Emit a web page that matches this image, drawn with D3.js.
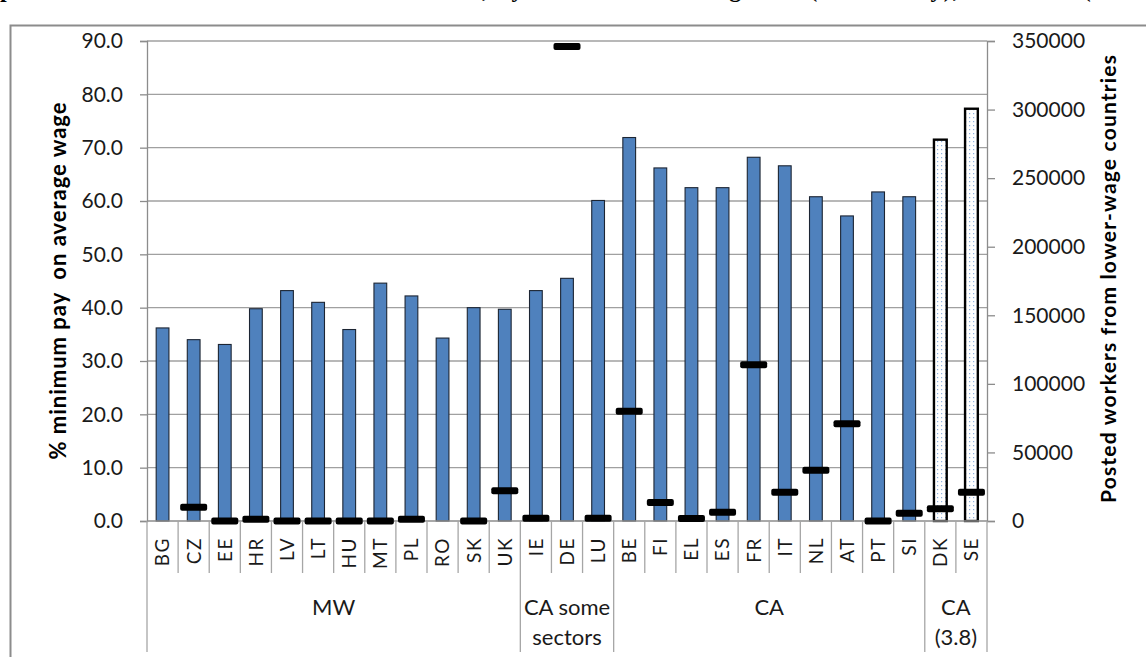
<!DOCTYPE html>
<html>
<head>
<meta charset="utf-8">
<script src="https://cdn.jsdelivr.net/npm/d3@7"></script>
<style>
  html, body { margin: 0; padding: 0; background: #fff; overflow: hidden; }
  svg { display: block; }
</style>
</head>
<body>
<svg id="chart" width="1146" height="657"></svg>
<script>
// ---- data ----
const categories = ["BG","CZ","EE","HR","LV","LT","HU","MT","PL","RO","SK","UK","IE","DE","LU","BE","FI","EL","ES","FR","IT","NL","AT","PT","SI","DK","SE"];
const minPayPct = [36.2,34.0,33.1,39.8,43.2,41.0,35.9,44.6,42.2,34.3,40.0,39.7,43.2,45.5,60.1,71.9,66.2,62.5,62.5,68.2,66.6,60.8,57.2,61.7,60.8,71.5,77.3];
const postedWorkers = [null,10000,0,1200,0,0,0,0,1200,null,0,22000,2000,346000,2000,80000,13500,1800,6300,114000,21000,37000,71000,0,5600,8900,21000];
const hatched = [false,false,false,false,false,false,false,false,false,false,false,false,false,false,false,false,false,false,false,false,false,false,false,false,false,true,true];
const groupNames = [["MW"],["CA some","sectors"],["CA"],["CA","(3.8)"]];
const groupSizes = [12,3,10,2];
const leftTicks = [0,10,20,30,40,50,60,70,80,90];
const rightTicks = [0,50000,100000,150000,200000,250000,300000,350000];
const leftTitle = "% minimum pay  on average wage";
const rightTitle = "Posted workers from lower-wage countries";
const topTitle = "posted workers: minimum rates in the EU, by mechanism of wage law (mandatory), collective (mainly),";

// ---- layout ----
const svg = d3.select("#chart");
const X0 = 147, X1 = 987, Y0 = 521, Y1 = 41;
const font = "Lato, 'Open Sans', sans-serif";

const x = d3.scaleBand().domain(categories).range([X0, X1]).paddingInner(0.59).paddingOuter(0.295);
const step = x.step();
const yL = d3.scaleLinear().domain([0, 90]).range([Y0, Y1]);
const yR = d3.scaleLinear().domain([0, 350000]).range([Y0, Y1]);

// pattern for hatched bars
const defs = svg.append("defs");
const pat = defs.append("pattern").attr("id", "dots").attr("patternUnits", "userSpaceOnUse")
  .attr("width", 4).attr("height", 4);
pat.append("rect").attr("width", 4).attr("height", 4).attr("fill", "#fff");
pat.append("rect").attr("x", 1).attr("y", 1).attr("width", 1.2).attr("height", 1.2).attr("fill", "#8fb0dc");

// outer frame (partially visible)
svg.append("path").attr("d", `M10.5,657 L10.5,25.5 L1146,25.5`)
  .attr("fill", "none").attr("stroke", "#8c8c8c").attr("stroke-width", 2);

// cropped title at top (only descenders visible, as in the reference)
svg.append("text").attr("x", 0).attr("y", -3)
  .attr("font-family", "'Liberation Serif', serif").attr("font-weight", "bold").attr("font-size", 24)
  .attr("textLength", 1186).attr("lengthAdjust", "spacing")
  .text(topTitle);

// gridlines
svg.append("g").selectAll("line").data(leftTicks.filter(d => d > 0)).join("line")
  .attr("x1", X0).attr("x2", X1).attr("y1", d => yL(d)).attr("y2", d => yL(d))
  .attr("stroke", "#a0a0a0").attr("stroke-width", 1.3);

// left axis
const axL = svg.append("g").attr("transform", `translate(${X0},0)`)
  .call(d3.axisLeft(yL).tickValues(leftTicks).tickFormat(d3.format(".1f")).tickSize(7).tickPadding(17));
axL.select(".domain").attr("stroke", "#8c8c8c").attr("stroke-width", 1.3);
axL.selectAll(".tick line").attr("stroke", "#8c8c8c").attr("stroke-width", 1.3);
axL.selectAll(".tick text").attr("font-family", font).attr("font-size", 21).attr("fill", "#1a1a1a");

// right axis
const axR = svg.append("g").attr("transform", `translate(${X1},0)`)
  .call(d3.axisRight(yR).tickValues(rightTicks).tickFormat(d3.format("d")).tickSize(8).tickPadding(17));
axR.select(".domain").attr("stroke", "#8c8c8c").attr("stroke-width", 1.3);
axR.selectAll(".tick line").attr("stroke", "#8c8c8c").attr("stroke-width", 1.3);
axR.selectAll(".tick text").attr("font-family", font).attr("font-size", 21).attr("fill", "#1a1a1a");

// bars
svg.append("g").selectAll("rect").data(categories).join("rect")
  .attr("x", d => x(d)).attr("width", x.bandwidth())
  .attr("y", (d, i) => yL(minPayPct[i]))
  .attr("height", (d, i) => yL(0) - yL(minPayPct[i]))
  .attr("fill", (d, i) => hatched[i] ? "url(#dots)" : "#4f81bd")
  .attr("stroke", (d, i) => hatched[i] ? "#000" : "#1c2533")
  .attr("stroke-width", (d, i) => hatched[i] ? 2.4 : 1.1);

// x-axis baseline
svg.append("line").attr("x1", X0).attr("x2", X1).attr("y1", Y0).attr("y2", Y0)
  .attr("stroke", "#8c8c8c").attr("stroke-width", 1.3);

// posted workers dashes
const dashW = 27, dashH = 7;
svg.append("g").selectAll("rect").data(categories.filter((d, i) => postedWorkers[i] !== null)).join("rect")
  .attr("x", d => x(d) + x.bandwidth() / 2 - dashW / 2)
  .attr("y", d => yR(postedWorkers[categories.indexOf(d)]) - dashH / 2)
  .attr("width", dashW).attr("height", dashH).attr("rx", 2)
  .attr("fill", "#000");

// category dividers
const bounds = d3.range(categories.length + 1).map(i => X0 + i * step);
const groupBounds = [0];
groupSizes.forEach(s => groupBounds.push(groupBounds[groupBounds.length - 1] + s));
svg.append("g").selectAll("line").data(bounds).join("line")
  .attr("x1", d => d).attr("x2", d => d)
  .attr("y1", Y0)
  .attr("y2", (d, i) => groupBounds.includes(i) ? 652 : 573)
  .attr("stroke", "#a6a6a6").attr("stroke-width", 1.3);

// category labels
svg.append("g").selectAll("text").data(categories).join("text")
  .attr("transform", d => `translate(${x(d) + x.bandwidth() / 2},537) rotate(-90)`)
  .attr("dy", "0.36em").attr("text-anchor", "end")
  .attr("font-family", font).attr("font-size", 19).attr("letter-spacing", 1.5).attr("fill", "#1a1a1a")
  .text(d => d);

// group labels
groupNames.forEach((lines, g) => {
  const cx = X0 + (groupBounds[g] + groupBounds[g + 1]) / 2 * step;
  lines.forEach((t, j) => {
    svg.append("text").attr("x", cx).attr("y", 615 + j * 30)
      .attr("text-anchor", "middle").attr("font-family", font).attr("font-size", 22).attr("fill", "#1a1a1a")
      .text(t);
  });
});

// axis titles
svg.append("text").attr("transform", `translate(66,281) rotate(-90)`)
  .attr("text-anchor", "middle").attr("font-family", font).attr("font-weight", "bold").attr("font-size", 22)
  .attr("fill", "#000").attr("textLength", 357).attr("lengthAdjust", "spacing")
  .style("white-space", "pre").text(leftTitle);
svg.append("text").attr("transform", `translate(1116,279) rotate(-90)`)
  .attr("text-anchor", "middle").attr("font-family", font).attr("font-weight", "bold").attr("font-size", 21)
  .attr("fill", "#000").attr("textLength", 448).attr("lengthAdjust", "spacing")
  .text(rightTitle);
</script>
</body>
</html>
